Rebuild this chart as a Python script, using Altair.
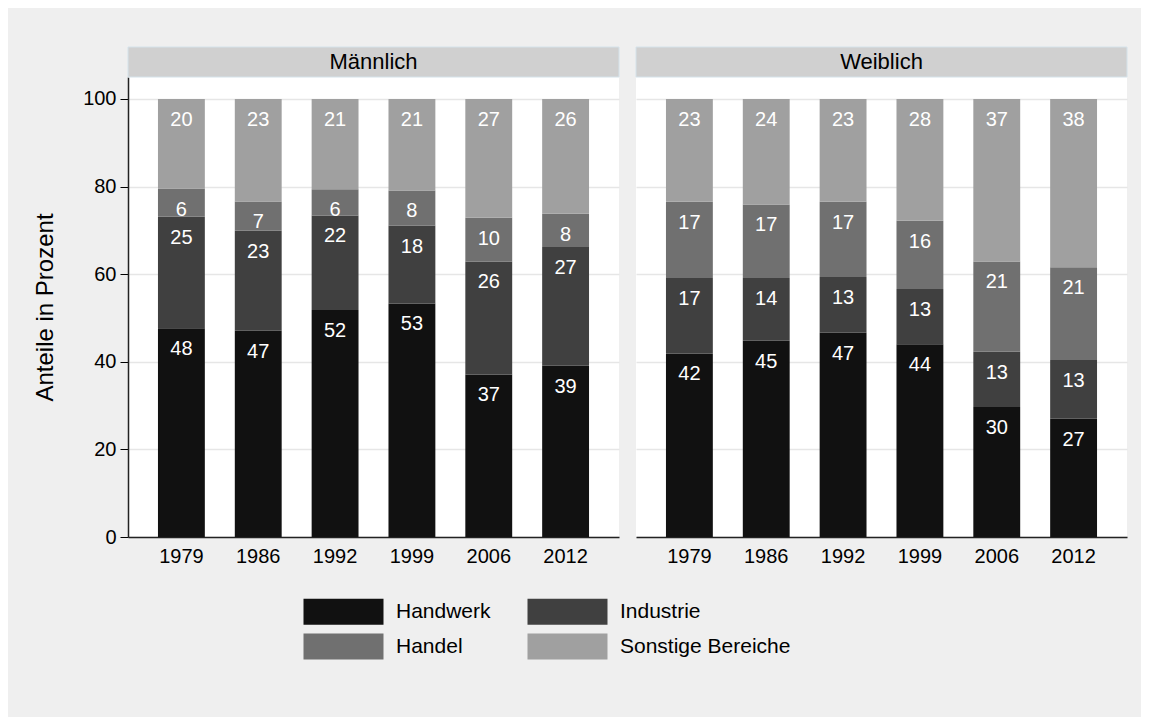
import altair as alt
import pandas as pd

years = ["1979", "1986", "1992", "1999", "2006", "2012"]
sectors = ["Handwerk", "Industrie", "Handel", "Sonstige Bereiche"]
colors = ["#111111", "#404040", "#707070", "#a0a0a0"]

m_handwerk = [47.6, 47.1, 51.8, 53.3, 37.1, 39.1]
m_industrie = [25.4, 22.8, 21.6, 17.8, 25.8, 27.1]
m_handel = [6.45, 6.7, 6.0, 8.0, 10.0, 7.6]
m_sonstige = [20.45, 23.4, 20.6, 20.9, 27.1, 26.2]

w_handwerk = [41.9, 44.8, 46.6, 44.0, 29.7, 27.0]
w_industrie = [17.2, 14.3, 12.75, 12.6, 12.6, 13.4]
w_handel = [17.45, 16.8, 17.2, 15.6, 20.6, 21.2]
w_sonstige = [23.45, 24.1, 23.45, 27.8, 37.1, 38.4]

FONT = "Liberation Sans"
PANEL_W = 491
PANEL_H = 460
Y_MAX = 105
HDR_TOP = Y_MAX + 30 / (PANEL_H / Y_MAX)
TICKS = [0, 20, 40, 60, 80, 100]
# wide legend swatch: 6 units wide, ~2 units tall, scaled by sqrt(size)/2
LEGEND_PATH = "M-3,-0.975H3V0.975H-3Z"


def make_df(vals):
    rows = []
    for i, yr in enumerate(years):
        seg = [v[i] for v in vals]
        tot = sum(seg)
        lo = 0.0
        for s, v in zip(sectors, seg):
            p = v / tot * 100
            rows.append(dict(year=yr, sector=s, pct=p, lo=lo, hi=lo + p))
            lo += p
    return pd.DataFrame(rows)


def panel(name, vals, first):
    df = make_df(vals)
    yscale = alt.Scale(domain=[0, Y_MAX], nice=False, zero=True)
    if first:
        yaxis = alt.Axis(values=TICKS, title="Anteile in Prozent", tickSize=8,
                         tickColor="#000000", domainColor="#222222", domainWidth=1.5,
                         labelFontSize=20, labelPadding=4, titleFontSize=24,
                         titlePadding=25, titleFontWeight="normal", grid=True)
    else:
        yaxis = alt.Axis(values=TICKS, title=None, labels=False, ticks=False,
                         domain=False, grid=True)
    xenc = alt.X("year:N", sort=years,
                 scale=alt.Scale(paddingInner=0.39, paddingOuter=0.39),
                 axis=alt.Axis(title=None, labelAngle=0, ticks=False, labelFontSize=20,
                               labelPadding=9, domainColor="#222222", domainWidth=1.5,
                               grid=False))
    legend = alt.Legend(title=None, orient="none", legendX=202, legendY=521,
                        direction="horizontal", columns=2, symbolType=LEGEND_PATH,
                        symbolSize=711, symbolStrokeWidth=0, symbolOpacity=1,
                        labelFontSize=21, labelOffset=39, columnPadding=36,
                        rowPadding=8, labelLimit=300, labelColor="#000000",
                        labelFont=FONT, padding=0)
    base = alt.Chart(df)
    bars = base.mark_bar().encode(
        x=xenc,
        y=alt.Y("lo:Q", scale=yscale, axis=yaxis),
        y2="hi:Q",
        color=alt.Color("sector:N", scale=alt.Scale(domain=sectors, range=colors),
                        legend=legend),
    )
    text = base.mark_text(color="white", fontSize=20, font=FONT, baseline="middle",
                          align="center", dy=21).encode(
        x=alt.X("year:N", sort=years),
        y=alt.Y("hi:Q", scale=yscale, axis=yaxis),
        text=alt.Text("pct:Q", format=".0f"),
    )
    hdf = pd.DataFrame({"label": [name], "y0": [Y_MAX], "y1": [HDR_TOP],
                        "ym": [(Y_MAX + HDR_TOP) / 2]})
    hdr = alt.Chart(hdf)
    hrect = hdr.mark_rect(fill="#d0d0d0", stroke="#d4e2ea", strokeWidth=1).encode(
        x=alt.value(0), x2=alt.value(PANEL_W),
        y=alt.Y("y1:Q", scale=yscale, axis=yaxis), y2="y0:Q",
    )
    htext = hdr.mark_text(fontSize=22, font=FONT, color="#000000",
                          baseline="middle", align="center").encode(
        x=alt.value(PANEL_W / 2),
        y=alt.Y("ym:Q", scale=yscale, axis=yaxis),
        text="label:N",
    )
    return alt.layer(bars, text, hrect, htext).properties(width=PANEL_W, height=PANEL_H)


left = panel("Männlich", [m_handwerk, m_industrie, m_handel, m_sonstige], True)
right = panel("Weiblich", [w_handwerk, w_industrie, w_handel, w_sonstige], False)

chart = alt.hconcat(left, right, spacing=15).resolve_scale(
    color="shared", x="independent", y="independent"
).properties(
    background="#efefef",
    padding={"left": 25, "top": 38, "right": 13, "bottom": 57},
).configure_view(
    stroke=None, fill="white"
).configure_axis(
    labelFont=FONT, titleFont=FONT, labelColor="#000000", titleColor="#000000",
    gridColor="#e6e6e6", gridWidth=1.5,
)

chart.save("out.html", embed_options={"renderer": "svg", "actions": False})
